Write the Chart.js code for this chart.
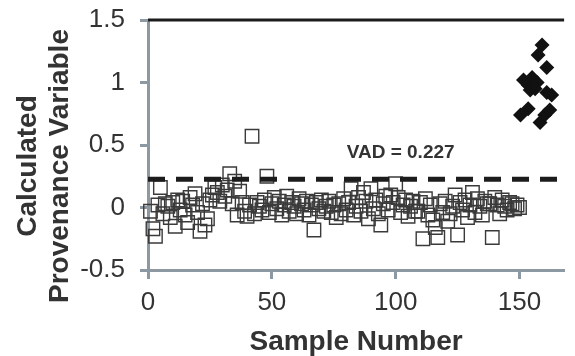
<!DOCTYPE html>
<html><head><meta charset="utf-8">
<script src="https://cdn.jsdelivr.net/npm/chart.js@4.4.0/dist/chart.umd.min.js"></script>
<style>html,body{margin:0;padding:0;background:#fff;}#wrap{width:575px;height:356px;}</style>
</head><body><div id="wrap"><canvas id="c" width="575" height="356"></canvas></div>
<script>
// ---- data ----
const squareValues = [
 -0.03,-0.17,-0.23,0.02,0.16,-0.05,0.03,0.01,-0.08,0.04,
 -0.15,0.06,-0.02,0.05,-0.06,-0.12,0.08,0.02,0.11,-0.04,
 -0.19,0.03,-0.14,-0.09,0.06,0.10,0.16,0.12,0.05,0.18,
 0.09,0.14,0.27,0.03,0.21,-0.06,0.13,0.04,-0.03,-0.07,
 0.02,0.57,-0.05,0.04,0.01,-0.02,0.06,0.25,-0.04,0.03,
 0.08,-0.01,0.05,-0.06,0.02,0.09,-0.03,0.04,0.01,-0.05,
 0.07,0.03,-0.02,0.05,-0.06,0.02,-0.18,0.04,-0.01,0.06,
 -0.03,0.01,0.05,-0.04,0.02,-0.08,0.03,-0.05,0.07,-0.02,
 0.04,0.15,-0.06,0.01,0.08,-0.03,0.12,0.05,-0.09,0.15,
 -0.01,0.06,-0.05,-0.14,0.03,0.09,-0.02,0.10,0.04,0.19,
 0.08,-0.04,0.02,0.06,-0.07,0.01,0.05,-0.03,-0.03,0.04,
 -0.25,0.07,-0.06,0.02,-0.10,-0.16,-0.24,0.03,-0.04,0.05,
 -0.11,-0.05,0.01,0.10,-0.22,0.04,-0.02,0.06,-0.08,0.02,
 0.12,-0.04,0.07,0.01,-0.06,0.05,0.03,0.03,-0.24,0.08,
 0.02,-0.05,0.06,0.01,-0.02,0.04,0.03,-0.01,0.02,0.00
];
const diamondX = [159.1,157.5,161.0,151.6,155.1,153.5,157.1,163.0,161.0,153.5,150.4,160.2,158.3,162.2,154.3,156.3];
const diamondY = [1.30,1.22,1.12,1.02,1.04,0.98,1.00,0.90,0.92,0.79,0.74,0.74,0.68,0.78,0.94,0.95];
const vadValue = 0.227;
const topLineValue = 1.5;
const xTicks = [0,50,100,150];
const yTicks = [-0.5,0,0.5,1,1.5];
const xRange = [0,168];
const yRange = [-0.5,1.5];
const yTitleLines = ['Calculated','Provenance Variable'];
const xTitle = 'Sample Number';
const vadLabel = 'VAD = 0.227';

// ---- build ----
const FONT = '"Liberation Sans", Arial, sans-serif';
const AXIS = '#8c98a2';
const TXT = '#333333';
const squares = squareValues.map((v,i)=>({x:i+1,y:v}));
const diamonds = diamondX.map((x,i)=>({x:x,y:diamondY[i]}));

const overlay = {
  id:'overlay',
  afterDraw(chart){
    const ctx = chart.ctx, xs = chart.scales.x, ys = chart.scales.y, ca = chart.chartArea;
    ctx.save();
    ctx.fillStyle = TXT;
    ctx.font = 'bold 28px ' + FONT;
    ctx.textAlign = 'center';
    ctx.textBaseline = 'alphabetic';
    const yc = (ca.top + ca.bottom)/2 + 21;
    const baselines = [36, 68];
    yTitleLines.forEach((t,i)=>{
      ctx.save();
      ctx.translate(baselines[i], yc);
      ctx.rotate(-Math.PI/2);
      ctx.fillText(t, 0, 0);
      ctx.restore();
    });
    ctx.font = 'bold 19px ' + FONT;
    ctx.textAlign = 'center';
    ctx.textBaseline = 'alphabetic';
    ctx.fillText(vadLabel, xs.getPixelForValue(102), ys.getPixelForValue(0.4));
    ctx.restore();
  }
};

new Chart(document.getElementById('c'), {
  type:'scatter',
  data:{datasets:[
    {label:'top', data:[{x:xRange[0],y:topLineValue},{x:xRange[1],y:topLineValue}], showLine:true, borderColor:'#1c1c1c', borderWidth:3, pointRadius:0, clip:false, order:3},
    {label:'samples', data:squares, pointStyle:'rect', pointRadius:9.5, pointBorderWidth:1.4, pointBorderColor:'#3a3a3a', pointBackgroundColor:'rgba(0,0,0,0)', clip:false, order:2},
    {label:'VAD', data:[{x:xRange[0],y:vadValue},{x:xRange[1],y:vadValue}], showLine:true, borderColor:'#1c1c1c', borderWidth:5, borderDash:[17,11], pointRadius:0, order:1},
    {label:'group', data:diamonds, pointStyle:'rectRot', pointRadius:7.5, pointBorderWidth:0, pointBackgroundColor:'#111', pointBorderColor:'#111', clip:false, order:0}
  ]},
  options:{
    responsive:false, animation:false, devicePixelRatio:1,
    layout:{padding:{top:20,left:0,right:0,bottom:0}},
    plugins:{legend:{display:false}, tooltip:{enabled:false}},
    scales:{
      x:{type:'linear', position:'bottom', min:xRange[0], max:xRange[1],
        afterBuildTicks(s){ s.ticks = xTicks.map(v=>({value:v})); },
        afterFit(s){ s.height = 86; s.paddingLeft = 0; s.paddingRight = 0; },
        border:{color:AXIS, width:3},
        grid:{drawOnChartArea:false, drawTicks:true, tickLength:9, tickWidth:3, tickColor:AXIS},
        ticks:{font:{family:FONT, size:26}, color:TXT, padding:8, maxRotation:0, autoSkip:false, callback:v=>String(v)},
        title:{display:true, text:xTitle, font:{family:FONT, size:28, weight:'bold'}, color:TXT, padding:{top:0,bottom:-3}}
      },
      y:{type:'linear', position:'left', min:yRange[0], max:yRange[1],
        afterBuildTicks(s){ s.ticks = yTicks.map(v=>({value:v})); },
        afterFit(s){ s.width = 148; s.paddingTop = 0; s.paddingBottom = 0; },
        border:{color:AXIS, width:3},
        grid:{drawOnChartArea:false, drawTicks:true, tickLength:8, tickWidth:3, tickColor:AXIS},
        ticks:{font:{family:FONT, size:26}, color:TXT, padding:15, autoSkip:false, callback:v=>String(v)}
      }
    }
  },
  plugins:[overlay]
});
</script></body></html>
